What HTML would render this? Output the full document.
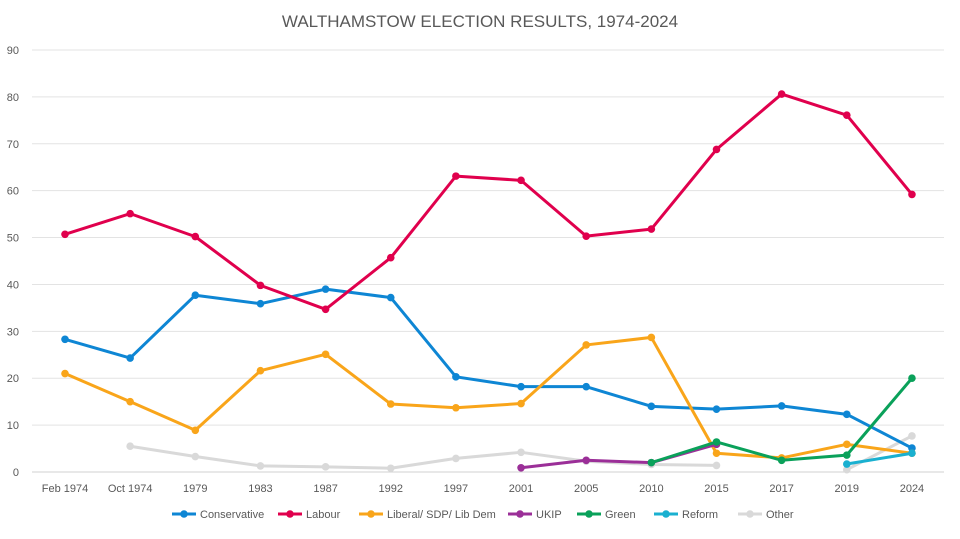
<!DOCTYPE html>
<html><head><meta charset="utf-8"><style>
body{margin:0;background:#fff;width:960px;height:534px;overflow:hidden;font-family:"Liberation Sans",sans-serif}
</style></head><body>
<svg id="s" width="960" height="534" xmlns="http://www.w3.org/2000/svg" font-family="Liberation Sans, sans-serif"></svg>
<script>
var s=document.getElementById('s'),h='';
function X(i){return 65+i*65.15}function Y(v){return 472-v*4.689}
h+='<text x="480" y="27" text-anchor="middle" font-size="17" fill="#595959">WALTHAMSTOW ELECTION RESULTS, 1974-2024</text>';
for(var v=0;v<=90;v+=10){var y=Y(v);h+='<line x1="32" x2="944" y1="'+y+'" y2="'+y+'" stroke="'+(v?'#e3e3e3':'#d0d0d0')+'" stroke-width="1"/>';h+='<text x="19" y="'+(y+4)+'" text-anchor="end" font-size="11" fill="#595959">'+v+'</text>';}
var cats=['Feb 1974','Oct 1974','1979','1983','1987','1992','1997','2001','2005','2010','2015','2017','2019','2024'];
cats.forEach(function(c,i){h+='<text x="'+X(i)+'" y="492" text-anchor="middle" font-size="11" fill="#595959">'+c+'</text>'});
var N=null;
var S=[
['Other','#d9d9d9',[N,5.5,3.3,1.3,1.1,0.8,2.9,4.2,2.3,1.6,1.4,N,0.5,7.7]],
['Conservative','#0e86d4',[28.3,24.3,37.7,35.9,39,37.2,20.3,18.2,18.2,14,13.4,14.1,12.3,5.1]],
['Labour','#e0004d',[50.7,55.1,50.2,39.8,34.7,45.7,63.1,62.2,50.3,51.8,68.8,80.6,76.1,59.2]],
['Liberal/ SDP/ Lib  Dem','#f9a51a',[21,15,8.9,21.6,25.1,14.5,13.7,14.6,27.1,28.7,4,3,5.9,4]],
['UKIP','#9b2f98',[N,N,N,N,N,N,N,0.9,2.5,2.0,5.9,N,N,N]],
['Green','#0aa15a',[N,N,N,N,N,N,N,N,N,2.0,6.4,2.5,3.6,20.0]],
['Reform','#1ab0d0',[N,N,N,N,N,N,N,N,N,N,N,N,1.7,4.0]]];
S.forEach(function(s){var seg=[],segs=[];s[2].forEach(function(v,i){if(v===N){if(seg.length)segs.push(seg);seg=[]}else seg.push(X(i)+','+Y(v))});if(seg.length)segs.push(seg);
segs.forEach(function(g){h+='<polyline points="'+g.join(' ')+'" fill="none" stroke="'+s[1]+'" stroke-width="3" stroke-linejoin="round" stroke-linecap="round"/>';g.forEach(function(p){var q=p.split(',');h+='<circle cx="'+q[0]+'" cy="'+q[1]+'" r="3.8" fill="'+s[1]+'"/>'})})});
var L=[['Conservative','#0e86d4',172],['Labour','#e0004d',278],['Liberal/ SDP/ Lib  Dem','#f9a51a',359],['UKIP','#9b2f98',508],['Green','#0aa15a',577],['Reform','#1ab0d0',654],['Other','#d9d9d9',738]];
L.forEach(function(l){h+='<line x1="'+l[2]+'" x2="'+(l[2]+24)+'" y1="514" y2="514" stroke="'+l[1]+'" stroke-width="3"/><circle cx="'+(l[2]+12)+'" cy="514" r="3.8" fill="'+l[1]+'"/><text x="'+(l[2]+28)+'" y="518" font-size="11" fill="#595959">'+l[0]+'</text>'});
s.innerHTML=h;
</script>
</body></html>
